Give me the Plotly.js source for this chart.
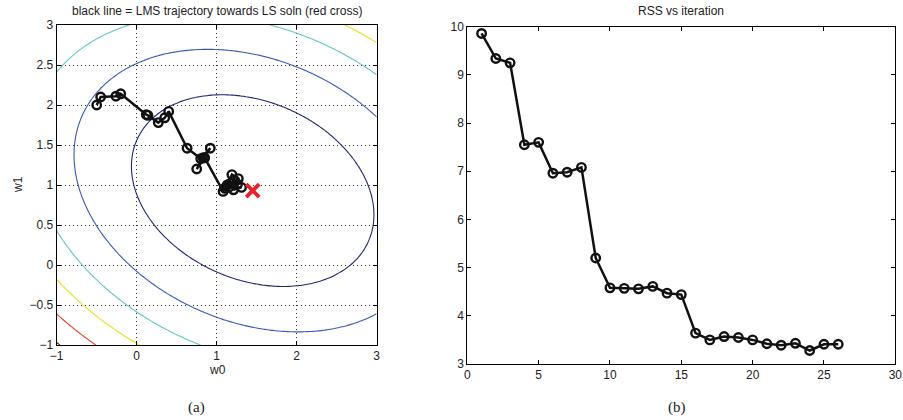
<!DOCTYPE html>
<html>
<head>
<meta charset="utf-8">
<script src="https://cdn.plot.ly/plotly-3.0.1.min.js"></script>
<style>html,body{margin:0;padding:0;background:#fff;}#chart{width:903px;height:420px;}</style>
</head>
<body>
<div id="chart"></div>
<script>
// LMS trajectory (w0, w1)
const trajW0 = [-0.50, -0.45, -0.26, -0.20, 0.12, 0.14, 0.27, 0.35, 0.40, 0.63, 0.80, 0.92, 0.83, 0.75, 0.85, 1.08, 1.13, 1.19, 1.27, 1.21, 1.31, 1.15, 1.22, 1.10, 1.17, 1.26];
const trajW1 = [2.00, 2.10, 2.11, 2.14, 1.88, 1.87, 1.78, 1.84, 1.92, 1.46, 1.33, 1.46, 1.34, 1.20, 1.34, 0.92, 1.00, 1.13, 1.08, 0.94, 0.97, 0.97, 1.06, 0.96, 1.02, 1.01];
// LS solution (red cross)
const lsW0 = [1.45];
const lsW1 = [0.93];
// RSS vs iteration
const iterations = [1,2,3,4,5,6,7,8,9,10,11,12,13,14,15,16,17,18,19,20,21,22,23,24,25,26];
const rss = [9.86, 9.34, 9.25, 7.55, 7.60, 6.96, 6.98, 7.08, 5.20, 4.58, 4.57, 4.56, 4.61, 4.47, 4.44, 3.64, 3.50, 3.57, 3.55, 3.50, 3.42, 3.39, 3.43, 3.28, 3.41, 3.41];
// quadratic error surface parameters (estimated from contour shapes)
const quadA = 1.0, quadB = 0.32, quadC = 1.6;
const contourLevels = {start: 2.15, end: 14.75, size: 2.52};

// grid for contour surface
const gx = [], gy = [];
for (let i = 0; i <= 120; i++) { gx.push(-1 + 4 * i / 120); gy.push(-1 + 4 * i / 120); }
const gz = gy.map(w1 => gx.map(w0 => {
  const d0 = w0 - lsW0[0], d1 = w1 - lsW1[0];
  return quadA * d0 * d0 + 2 * quadB * d0 * d1 + quadC * d1 * d1;
}));

const FONT = 'Liberation Sans, Arial, sans-serif';
const tickFont = {family: FONT, size: 12, color: '#222'};

const traces = [
  {type: 'contour', x: gx, y: gy, z: gz, xaxis: 'x', yaxis: 'y',
   contours: {coloring: 'lines', start: contourLevels.start, end: contourLevels.end, size: contourLevels.size, showlabels: false},
   zmin: contourLevels.start, zmax: contourLevels.end,
   colorscale: [[0, '#1e2878'], [0.2, '#3a58b8'], [0.4, '#5ec8c4'], [0.6, '#e6e01e'], [0.8, '#f0402a'], [1, '#a00000']],
   line: {width: 1.1, smoothing: 1.3}, showscale: false, hoverinfo: 'skip'},
  {type: 'scatter', mode: 'lines+markers', x: trajW0, y: trajW1, xaxis: 'x', yaxis: 'y',
   line: {color: '#111', width: 2.5},
   marker: {symbol: 'circle-open', size: 8.5, color: '#111', line: {width: 2.4, color: '#111'}}, showlegend: false},
  {type: 'scatter', mode: 'markers', x: lsW0, y: lsW1, xaxis: 'x', yaxis: 'y',
   marker: {symbol: 'x-thin-open', size: 13, color: '#e8202a', line: {width: 3.8, color: '#e8202a'}}, showlegend: false},
  {type: 'scatter', mode: 'lines+markers', x: iterations, y: rss, xaxis: 'x2', yaxis: 'y2',
   line: {color: '#111', width: 2.5},
   marker: {symbol: 'circle-open', size: 8.5, color: '#111', line: {width: 2.4, color: '#111'}}, showlegend: false}
];

const axisCommon = {
  showline: true, linecolor: '#000', linewidth: 1, mirror: 'ticks',
  ticks: 'inside', ticklen: 4, tickcolor: '#000', tickfont: tickFont,
  zeroline: false, fixedrange: true
};

const layout = {
  width: 903, height: 420,
  margin: {l: 0, r: 0, t: 0, b: 0},
  paper_bgcolor: '#fff', plot_bgcolor: '#fff',
  showlegend: false,
  xaxis: Object.assign({}, axisCommon, {domain: [56.7/903, 376.7/903], anchor: 'y', range: [-1, 3],
    tickvals: [-1, 0, 1, 2, 3], showgrid: true, gridcolor: '#333', griddash: '1px,3px', gridwidth: 1}),
  yaxis: Object.assign({}, axisCommon, {domain: [75/420, 395/420], anchor: 'x', range: [-1, 3],
    tickvals: [-1, -0.5, 0, 0.5, 1, 1.5, 2, 2.5, 3], showgrid: true, gridcolor: '#333', griddash: '1px,3px', gridwidth: 1}),
  xaxis2: Object.assign({}, axisCommon, {domain: [467.3/903, 895.3/903], anchor: 'y2', range: [0, 30],
    tickvals: [0, 5, 10, 15, 20, 25, 30], showgrid: false}),
  yaxis2: Object.assign({}, axisCommon, {domain: [56/420, 393.3/420], anchor: 'x2', range: [3, 10],
    tickvals: [3, 4, 5, 6, 7, 8, 9, 10], showgrid: false}),
  annotations: [
    {text: 'black line = LMS trajectory towards LS soln (red cross)', xref: 'paper', yref: 'paper',
     x: 217/903, y: (420-11)/420, xanchor: 'center', yanchor: 'middle', showarrow: false,
     font: {family: FONT, size: 12, color: '#222'}},
    {text: 'RSS vs iteration', xref: 'paper', yref: 'paper',
     x: 681/903, y: (420-11)/420, xanchor: 'center', yanchor: 'middle', showarrow: false,
     font: {family: FONT, size: 12, color: '#222'}},
    {text: 'w0', xref: 'paper', yref: 'paper', x: 217/903, y: (420-370)/420,
     xanchor: 'center', yanchor: 'middle', showarrow: false,
     font: {family: FONT, size: 12, color: '#222'}},
    {text: 'w1', xref: 'paper', yref: 'paper', x: 18/903, y: (420-185)/420, textangle: -90,
     xanchor: 'center', yanchor: 'middle', showarrow: false,
     font: {family: FONT, size: 12, color: '#222'}},
    {text: '(a)', xref: 'paper', yref: 'paper', x: 196/903, y: (420-407)/420,
     xanchor: 'center', yanchor: 'middle', showarrow: false,
     font: {family: 'Liberation Serif, Times New Roman, serif', size: 15, color: '#222'}},
    {text: '(b)', xref: 'paper', yref: 'paper', x: 677/903, y: (420-407)/420,
     xanchor: 'center', yanchor: 'middle', showarrow: false,
     font: {family: 'Liberation Serif, Times New Roman, serif', size: 15, color: '#222'}}
  ]
};

Plotly.newPlot('chart', traces, layout, {staticPlot: true, displayModeBar: false});
</script>
</body>
</html>
